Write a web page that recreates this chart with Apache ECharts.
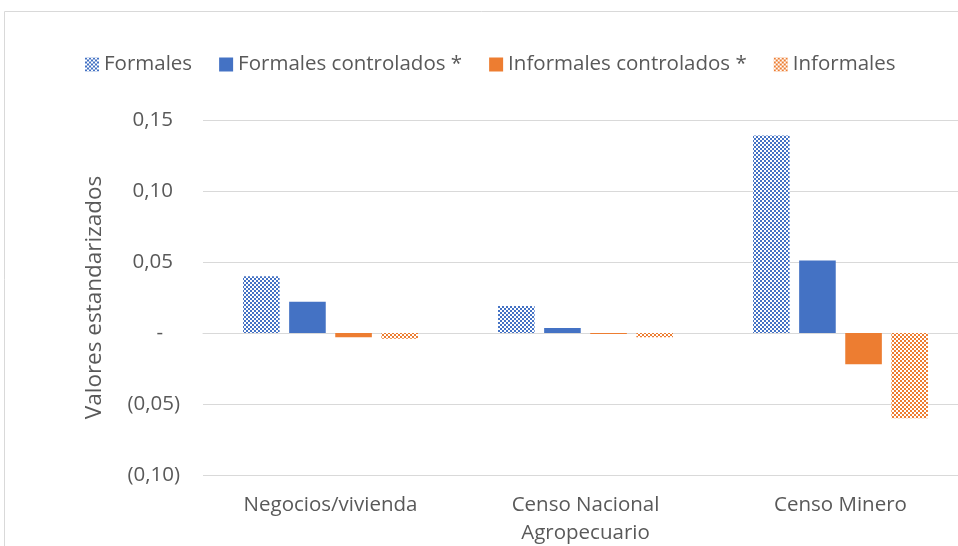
<!DOCTYPE html>
<html>
<head>
<meta charset="utf-8">
<script src="https://cdn.jsdelivr.net/npm/echarts@6/dist/echarts.min.js"></script>
<style>
  html, body { margin: 0; padding: 0; background: #fff; }
  #chart { width: 958px; height: 546px; }
</style>
</head>
<body>
<div id="chart"></div>
<script>
// datos
var categorias = ['Negocios/vivienda', 'Censo Nacional\nAgropecuario', 'Censo Minero'];
var formales = [0.040, 0.019, 0.139];
var formalesControlados = [0.022, 0.0035, 0.051];
var informalesControlados = [-0.003, -0.0007, -0.022];
var informales = [-0.004, -0.003, -0.060];
var nombres = ['Formales', 'Formales controlados *', 'Informales controlados *', 'Informales'];

var AZUL = '#4472C4', NARANJA = '#ED7D31';

// patron de cuadritos (tipo excel)
function patron(color) {
  var c = document.createElement('canvas');
  c.width = 4; c.height = 4;
  var ctx = c.getContext('2d');
  ctx.fillStyle = '#ffffff';
  ctx.fillRect(0, 0, 4, 4);
  ctx.fillStyle = color;
  ctx.fillRect(0, 0, 2, 2);
  ctx.fillRect(2, 2, 2, 2);
  return { image: c, repeat: 'repeat' };
}

// formato contable: 0,15 / - / (0,05)
function fmt(v) {
  if (Math.abs(v) < 1e-9) return '{d|-}';
  var s = Math.abs(v).toFixed(2).replace('.', ',');
  return v < 0 ? '{n|(' + s + ')}' : '{p|' + s + '}';
}

var fuente = 'Open Sans';
var gris = '#595959';
var chart = echarts.init(document.getElementById('chart'));

function serie(nombre, datos, color) {
  return {
    name: nombre,
    type: 'bar',
    data: datos,
    barGap: '26%',
    barCategoryGap: '31.4%',
    itemStyle: { color: color },
    emphasis: { disabled: true }
  };
}

var option = {
  animation: false,
  textStyle: { fontFamily: fuente },
  graphic: [{
    type: 'rect',
    shape: { x: 4.5, y: 11.5, width: 1000, height: 600 },
    style: { fill: 'none', stroke: '#d9d9d9', lineWidth: 1 },
    silent: true
  }],
  legend: {
    top: 49,
    left: 80,
    icon: 'rect',
    itemWidth: 14,
    itemHeight: 14,
    itemGap: 27,
    textStyle: { color: gris, fontSize: 20.5, fontFamily: fuente },
    data: nombres
  },
  grid: { left: 203, top: 120, width: 765, height: 355, outerBoundsMode: 'none' },
  xAxis: {
    type: 'category',
    data: categorias,
    axisLine: { onZero: true, lineStyle: { color: '#d9d9d9' } },
    axisTick: { show: false },
    axisLabel: {
      color: gris, fontSize: 20.5, fontFamily: fuente,
      margin: 16, lineHeight: 28, interval: 0
    }
  },
  yAxis: {
    type: 'value',
    min: -0.1,
    max: 0.15,
    interval: 0.05,
    name: 'Valores estandarizados',
    nameLocation: 'middle',
    nameGap: 97,
    nameTextStyle: { color: gris, fontSize: 22.5, fontFamily: fuente },
    axisLine: { show: false },
    axisTick: { show: false },
    splitLine: { lineStyle: { color: '#d9d9d9', width: 1 } },
    axisLabel: {
      color: gris, fontSize: 20.5, fontFamily: fuente, margin: 23,
      formatter: fmt,
      rich: {
        p: { color: gris, fontSize: 20.5, fontFamily: fuente, padding: [0, 7, 0, 0] },
        n: { color: gris, fontSize: 20.5, fontFamily: fuente },
        d: { color: gris, fontSize: 20.5, fontFamily: fuente, padding: [0, 17, 0, 0] }
      }
    }
  },
  series: [
    serie(nombres[0], formales, patron(AZUL)),
    serie(nombres[1], formalesControlados, AZUL),
    serie(nombres[2], informalesControlados, NARANJA),
    serie(nombres[3], informales, patron(NARANJA))
  ]
};
chart.setOption(option);
</script>
</body>
</html>
